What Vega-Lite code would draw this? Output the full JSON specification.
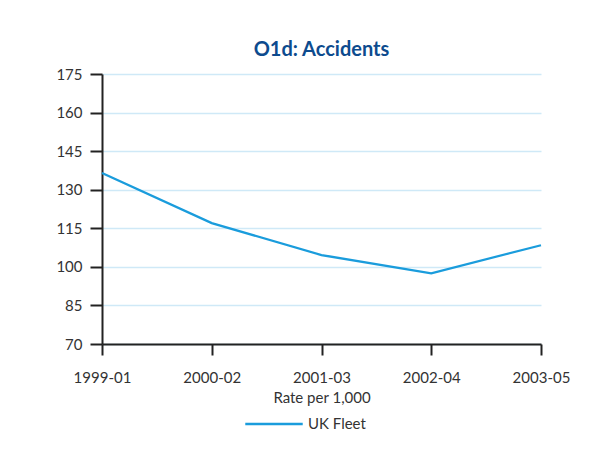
{
  "$schema": "https://vega.github.io/schema/vega-lite/v6.json",
  "width": 439,
  "height": 270,
  "autosize": {"type": "none"},
  "padding": {"left": 102, "top": 74, "right": 70, "bottom": 110},
  "background": "white",
  "title": {
    "text": "O1d: Accidents",
    "font": "Lato",
    "fontSize": 20,
    "fontWeight": "bold",
    "color": "#0d4b8e",
    "anchor": "middle",
    "offset": 7
  },
  "data": {
    "values": [
      {"period": "1999-01", "rate": 136.5, "series": "UK Fleet"},
      {"period": "2000-02", "rate": 117.0, "series": "UK Fleet"},
      {"period": "2001-03", "rate": 104.6, "series": "UK Fleet"},
      {"period": "2002-04", "rate": 97.5, "series": "UK Fleet"},
      {"period": "2003-05", "rate": 108.4, "series": "UK Fleet"}
    ]
  },
  "mark": {"type": "line", "strokeWidth": 2.3},
  "encoding": {
    "x": {
      "field": "period",
      "type": "ordinal",
      "scale": {"type": "point", "padding": 0},
      "title": "Rate per 1,000",
      "axis": {
        "labelAngle": 0,
        "domainColor": "#222222",
        "domainWidth": 2,
        "tickColor": "#222222",
        "tickWidth": 2,
        "tickSize": 11,
        "labelPadding": 15,
        "labelFont": "Lato",
        "labelFontSize": 15,
        "labelColor": "#333333",
        "titleFont": "Lato",
        "titleFontSize": 15,
        "titleFontWeight": "normal",
        "titleColor": "#333333",
        "titlePadding": 5,
        "grid": false
      }
    },
    "y": {
      "field": "rate",
      "type": "quantitative",
      "scale": {"domain": [70, 175], "nice": false, "zero": false},
      "title": null,
      "axis": {
        "values": [70, 85, 100, 115, 130, 145, 160, 175],
        "domainColor": "#222222",
        "domainWidth": 2,
        "tickColor": "#222222",
        "tickWidth": 2,
        "tickSize": 12,
        "labelPadding": 8,
        "labelFont": "Lato",
        "labelFontSize": 15,
        "labelColor": "#333333",
        "grid": true,
        "gridColor": "#cfe9f7",
        "gridWidth": 1.5
      }
    },
    "color": {
      "field": "series",
      "type": "nominal",
      "scale": {"range": ["#1a9cdc"]},
      "legend": {
        "title": null,
        "orient": "none",
        "legendX": 142,
        "legendY": 320,
        "symbolType": "stroke",
        "symbolSize": 3300,
        "symbolStrokeWidth": 2.3,
        "labelFont": "Lato",
        "labelFontSize": 15,
        "labelColor": "#333333",
        "labelOffset": 4
      }
    }
  },
  "config": {"view": {"stroke": null}}
}
